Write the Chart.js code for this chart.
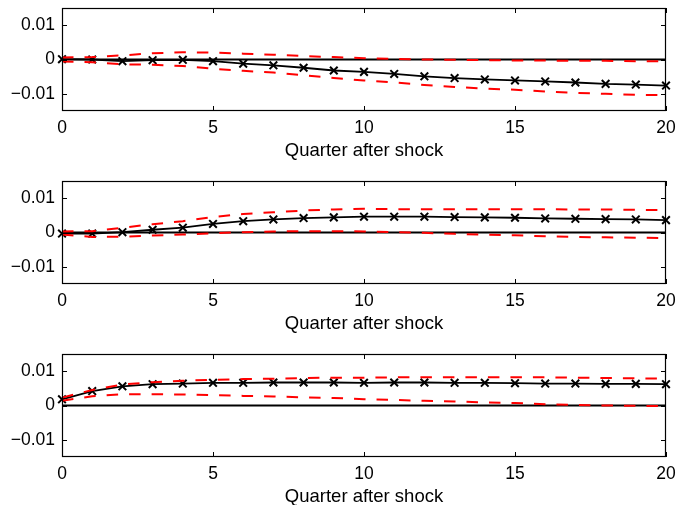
<!DOCTYPE html>
<html><head><meta charset="utf-8">
<script src="https://cdn.jsdelivr.net/npm/chart.js@4"></script>
<style>
html,body{margin:0;padding:0;background:#fff;width:676px;height:505px;overflow:hidden}
.panel{position:absolute;left:0;width:676px;height:162px}
canvas{display:block}
</style></head><body>
<div class="panel" style="top:0"><canvas id="c1" width="676" height="162"></canvas></div>
<div class="panel" style="top:173px"><canvas id="c2" width="676" height="162"></canvas></div>
<div class="panel" style="top:346px"><canvas id="c3" width="676" height="162"></canvas></div>
<script>
const quarters = [0,1,2,3,4,5,6,7,8,9,10,11,12,13,14,15,16,17,18,19,20];
const xLabel = "Quarter after shock";
const yTickValues = [-0.01, 0, 0.01];

const p1Response = [0.0001,0.0000,-0.0005,-0.0002,-0.0001,-0.0005,-0.0012,-0.0017,-0.0024,-0.0032,-0.0036,-0.0042,-0.0049,-0.0054,-0.0058,-0.0061,-0.0064,-0.0067,-0.0071,-0.0073,-0.0076];
const p1Upper = [0.0006,0.0007,0.0012,0.0018,0.0021,0.0020,0.0017,0.0014,0.0010,0.0007,0.0004,0.0002,0.0000,-0.0001,-0.0002,-0.0003,-0.0003,-0.0004,-0.0004,-0.0005,-0.0005];
const p1Lower = [-0.0006,-0.0008,-0.0014,-0.0015,-0.0019,-0.0027,-0.0033,-0.0038,-0.0046,-0.0054,-0.0061,-0.0067,-0.0074,-0.0080,-0.0085,-0.0088,-0.0093,-0.0097,-0.0100,-0.0103,-0.0104];

const p2Response = [-0.0003,-0.0003,0.0001,0.0008,0.0014,0.0025,0.0033,0.0038,0.0042,0.0044,0.0046,0.0046,0.0046,0.0045,0.0044,0.0043,0.0041,0.0040,0.0039,0.0038,0.0036];
const p2Upper = [0.0003,0.0004,0.0014,0.0024,0.0033,0.0045,0.0054,0.0059,0.0064,0.0067,0.0069,0.0068,0.0068,0.0068,0.0068,0.0068,0.0068,0.0067,0.0067,0.0066,0.0065];
const p2Lower = [-0.0006,-0.0013,-0.0012,-0.0009,-0.0006,-0.0002,0.0001,0.0003,0.0004,0.0004,0.0003,0.0001,-0.0001,-0.0004,-0.0006,-0.0008,-0.0011,-0.0013,-0.0014,-0.0015,-0.0016];

const p3Response = [0.0018,0.0042,0.0056,0.0062,0.0064,0.0066,0.0066,0.0067,0.0067,0.0067,0.0066,0.0067,0.0067,0.0066,0.0066,0.0065,0.0064,0.0064,0.0063,0.0063,0.0062];
const p3Upper = [0.0023,0.0045,0.0061,0.0068,0.0072,0.0075,0.0077,0.0078,0.0080,0.0081,0.0081,0.0082,0.0082,0.0082,0.0082,0.0082,0.0082,0.0081,0.0080,0.0079,0.0078];
const p3Lower = [0.0014,0.0027,0.0033,0.0033,0.0032,0.0030,0.0028,0.0026,0.0024,0.0022,0.0018,0.0016,0.0014,0.0012,0.0009,0.0007,0.0004,0.0002,0.0000,-0.0001,-0.0002];

const FAMILY = "'Liberation Sans', Arial, sans-serif";
const TICK_FONT = {family: FAMILY, size: 17.5};
const TITLE_FONT = {family: FAMILY, size: 18.5, lineHeight: 1.2};

const framePlugin = {
  id: 'frame',
  beforeDatasetsDraw(chart) {
    const {ctx, chartArea: a, scales: {y}} = chart;
    const y0 = y.getPixelForValue(0);
    ctx.save();
    ctx.strokeStyle = '#000';
    ctx.lineWidth = 1.8;
    ctx.beginPath();
    ctx.moveTo(a.left, y0); ctx.lineTo(a.right, y0);
    ctx.stroke();
    ctx.restore();
  },
  afterDatasetsDraw(chart) {
    const {ctx, chartArea: a, scales: {x, y}} = chart;
    ctx.save();
    ctx.strokeStyle = '#000';
    ctx.lineWidth = 1.2;
    ctx.strokeRect(a.left + 0.5, a.top + 0.5, a.right - a.left - 1, a.bottom - a.top - 1);
    const tl = 5;
    ctx.lineWidth = 1;
    ctx.beginPath();
    x.ticks.forEach(t => {
      const px = Math.round(x.getPixelForValue(t.value)) + 0.5;
      ctx.moveTo(px, a.top); ctx.lineTo(px, a.top + tl);
      ctx.moveTo(px, a.bottom); ctx.lineTo(px, a.bottom - tl);
    });
    y.ticks.forEach(t => {
      const py = Math.round(y.getPixelForValue(t.value)) + 0.5;
      ctx.moveTo(a.left, py); ctx.lineTo(a.left + tl, py);
      ctx.moveTo(a.right, py); ctx.lineTo(a.right - tl, py);
    });
    ctx.stroke();
    ctx.restore();
  }
};

function makeChart(id, resp, up, lo) {
  const toXY = arr => arr.map((v, i) => ({x: quarters[i], y: v}));
  const dashed = data => ({
    data: toXY(data), borderColor: '#ff0000', borderWidth: 2, borderDash: [11.5, 11],
    pointRadius: 0, fill: false, tension: 0, clip: false
  });
  return new Chart(document.getElementById(id), {
    type: 'line',
    data: {
      datasets: [
        dashed(up),
        dashed(lo),
        {
          data: toXY(resp), borderColor: '#000', borderWidth: 1.8,
          pointStyle: 'crossRot', pointRadius: 5.4, pointBorderWidth: 2,
          pointBorderColor: '#000', pointHoverRadius: 5.4, fill: false, tension: 0, clip: false
        }
      ]
    },
    options: {
      responsive: false, animation: false, events: [],
      layout: {padding: {top: 8, right: 10, left: 0, bottom: 0}},
      plugins: {legend: {display: false}, tooltip: {enabled: false}},
      scales: {
        x: {
          type: 'linear', min: 0, max: 20,
          grid: {display: false, drawTicks: false}, border: {display: false},
          ticks: {stepSize: 5, padding: 7, color: '#000', font: TICK_FONT, maxRotation: 0},
          title: {display: true, text: xLabel, color: '#000', font: TITLE_FONT, padding: {top: 0, bottom: 0}},
          afterFit(s) { s.height = 51; s.paddingLeft = 0; s.paddingRight = 0; }
        },
        y: {
          type: 'linear', min: -0.015, max: 0.015,
          grid: {display: false, drawTicks: false}, border: {display: false},
          afterBuildTicks(s) { s.ticks = yTickValues.map(v => ({value: v})); },
          ticks: {padding: 7, color: '#000', font: TICK_FONT, callback: v => String(v).replace('-', '\u2212')},
          afterFit(s) { s.width = 62; s.paddingTop = 0; s.paddingBottom = 0; }
        }
      }
    },
    plugins: [framePlugin]
  });
}

makeChart('c1', p1Response, p1Upper, p1Lower);
makeChart('c2', p2Response, p2Upper, p2Lower);
makeChart('c3', p3Response, p3Upper, p3Lower);
</script>
</body></html>
